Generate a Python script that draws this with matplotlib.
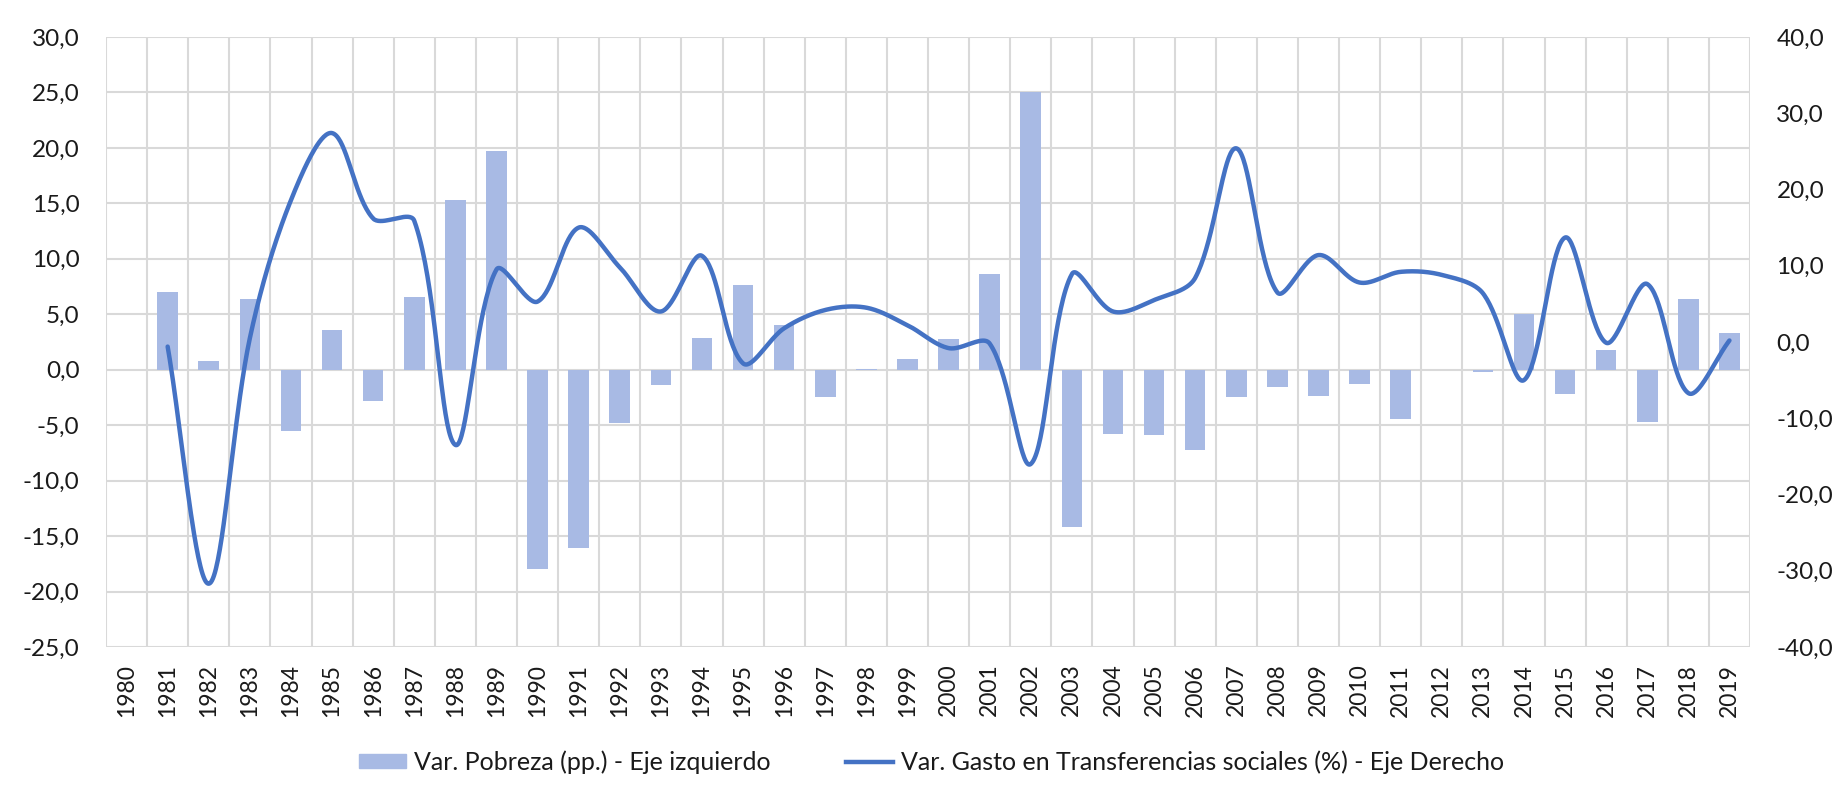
import matplotlib
matplotlib.use("Agg")
import matplotlib.pyplot as plt
import numpy as np
from matplotlib.ticker import FuncFormatter, MultipleLocator

# data
years = list(range(1980, 2020))
pobreza = [0.0, 7.0, 0.8, 6.4, -5.5, 3.6, -2.8, 6.6, 15.3, 19.7,
           -18.0, -16.1, -4.8, -1.4, 2.9, 7.6, 4.0, -2.5, 0.05, 1.0,
           2.8, 8.6, 25.0, -14.2, -5.8, -5.9, -7.2, -2.5, -1.6, -2.4,
           -1.3, -4.4, -0.05, -0.2, 5.0, -2.2, 1.8, -4.7, 6.4, 3.3]
# line starts in 1981
gasto_years = list(range(1981, 2020))
gasto = [-0.6, -31.7, 0.5, 18.6, 27.4, 16.2, 15.9, -13.5, 9.5,
         5.3, 15.0, 9.8, 4.0, 11.3, -2.8, 1.8, 4.2, 4.5, 2.2,
         -0.8, -0.2, -16.0, 8.9, 4.0, 5.5, 8.4, 25.4, 6.5, 11.4,
         7.8, 9.2, 8.8, 6.4, -5.0, 13.7, -0.1, 7.6, -6.7, 0.2]

label_bar = "Var. Pobreza (pp.) - Eje izquierdo"
label_line = "Var. Gasto en Transferencias sociales (%) - Eje Derecho"

plt.rcParams["font.family"] = ["Lato", "DejaVu Sans"]

bar_color = "#a8bae4"
line_color = "#4472c4"
grid_color = "#d9d9d9"
text_color = "#1a1a1a"

# pixel sizes of one unit, used to smooth the line like a spreadsheet does
PX_X = 41.1
PX_Y = 7.625


def smooth(x, y, n=40):
    # bezier smoothing with control points scaled by segment lengths
    X = np.asarray(x, float) * PX_X
    Y = np.asarray(y, float) * PX_Y
    P = np.column_stack([X, Y])
    P = np.vstack([P[0], P, P[-1]])
    t = np.linspace(0, 1, n)[:, None]
    out = []
    for i in range(1, len(P) - 2):
        p0, p1, p2, p3 = P[i - 1], P[i], P[i + 1], P[i + 2]
        d01 = np.hypot(*(p1 - p0))
        d12 = np.hypot(*(p2 - p1))
        d23 = np.hypot(*(p3 - p2))
        f1 = d12 / (d01 + d12) / 3 * 2 if d01 + d12 > 0 else 0
        f2 = d12 / (d12 + d23) / 3 * 2 if d12 + d23 > 0 else 0
        c1 = p1 + (p2 - p0) * f1 / 2
        c2 = p2 - (p3 - p1) * f2 / 2
        seg = (1 - t) ** 3 * p1 + 3 * (1 - t) ** 2 * t * c1 + 3 * (1 - t) * t ** 2 * c2 + t ** 3 * p2
        out.append(seg)
    out = np.vstack(out)
    return out[:, 0] / PX_X, out[:, 1] / PX_Y


fig = plt.figure(figsize=(18.37, 7.88), dpi=100)
ax = fig.add_axes([106 / 1837, 1 - 647 / 788, (1750 - 106) / 1837, (647 - 37) / 788])

x = np.arange(len(years))
ax.bar(x, pobreza, width=0.5, color=bar_color, zorder=2, label=label_bar)
ax.set_xlim(-0.5, len(years) - 0.5)
ax.set_ylim(-25, 30)
ax.yaxis.set_major_locator(MultipleLocator(5))
fmt = FuncFormatter(lambda v, p: f"{v:.1f}".replace(".", ","))
ax.yaxis.set_major_formatter(fmt)
ax.set_xticks(x)
ax.set_xticklabels([str(yr) for yr in years], rotation=90)

# gridlines: horizontal at ticks, vertical at category borders
for yv in np.arange(-25, 31, 5):
    ax.axhline(yv, color=grid_color, lw=1.5, zorder=1)
for xv in np.arange(-0.5, len(years), 1):
    ax.axvline(xv, color=grid_color, lw=1.5, zorder=1)
for s in ax.spines.values():
    s.set_visible(False)
ax.tick_params(length=0, colors=text_color)
ax.tick_params(axis="y", labelsize=17.5, pad=19)
ax.tick_params(axis="x", labelsize=16.5, pad=12)

ax2 = ax.twinx()
gx = np.array([years.index(g) for g in gasto_years])
sx, sy = smooth(gx, gasto)
ax2.plot(sx, sy, color=line_color, lw=3.2, zorder=3, solid_capstyle="round")
ax2.set_ylim(-40, 40)
ax2.yaxis.set_major_locator(MultipleLocator(10))
ax2.yaxis.set_major_formatter(fmt)
for s in ax2.spines.values():
    s.set_visible(False)
ax2.tick_params(length=0, colors=text_color, labelsize=17.5, pad=19)

handles = [plt.Rectangle((0, 0), 1, 1, color=bar_color),
           plt.Line2D([0], [0], color=line_color, lw=3.2)]
fig.legend(handles, [label_bar, label_line], loc="center", ncol=2,
           bbox_to_anchor=(0.507, 1 - 762 / 788), frameon=False,
           fontsize=18, handlelength=1.9, handleheight=0.5,
           handletextpad=0.3, columnspacing=3.0, labelcolor=text_color)

fig.savefig("out.png", dpi=100)
